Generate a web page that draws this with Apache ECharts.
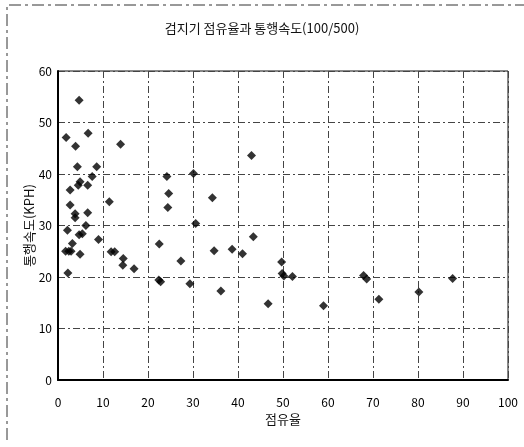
<!DOCTYPE html>
<html>
<head>
<meta charset="utf-8">
<script src="https://cdn.jsdelivr.net/npm/echarts@6/dist/echarts.min.js"></script>
<style>
  html, body { margin: 0; padding: 0; background: #fff; }
  #chart { width: 524px; height: 447px; }
</style>
</head>
<body>
<div id="chart"></div>
<script>
// Detector occupancy (%) vs. travel speed (KPH), one pair per observation
const occupancy = [
  4.7, 1.8, 6.7, 3.9, 13.9, 4.3, 8.6, 7.6, 4.9, 4.5,
  6.6, 2.7, 11.4, 2.7, 3.8, 3.8, 6.6, 6.2, 2.1, 4.7,
  5.4, 9.0, 3.2, 1.7, 2.4, 2.9, 4.9, 11.8, 12.6, 14.5,
  14.4, 16.9, 2.2, 22.4, 22.8, 22.5, 27.3, 29.3, 30.1, 24.2,
  24.6, 24.4, 30.6, 43.0, 34.3, 43.4, 34.7, 38.7, 41.0, 49.7,
  49.8, 50.2, 52.1, 36.2, 46.7, 59.0, 67.9, 68.6, 71.3, 80.2,
  87.7
];
const speed = [
  54.3, 47.1, 47.9, 45.4, 45.8, 41.4, 41.4, 39.5, 38.5, 37.8,
  37.8, 36.9, 34.6, 34.0, 32.3, 31.5, 32.5, 30.0, 29.1, 28.2,
  28.4, 27.3, 26.5, 25.0, 25.0, 25.0, 24.4, 24.9, 24.9, 23.6,
  22.3, 21.6, 20.8, 19.4, 19.1, 26.4, 23.1, 18.7, 40.1, 39.5,
  36.2, 33.5, 30.4, 43.6, 35.4, 27.8, 25.1, 25.4, 24.5, 22.9,
  20.7, 20.2, 20.1, 17.3, 14.8, 14.4, 20.3, 19.6, 15.7, 17.1,
  19.7
];
const xTicks = [0, 10, 20, 30, 40, 50, 60, 70, 80, 90, 100];
const yTicks = [0, 10, 20, 30, 40, 50, 60];

const titleText = '검지기 점유율과 통행속도(100/500)';
const xName = '점유율';
const yName = '통행속도(KPH)';

const points = occupancy.map((x, i) => [x, speed[i]]);

const FONT = '"Noto Sans CJK KR", "Noto Sans", sans-serif';
const gridLine = { show: true, lineStyle: { color: '#444', width: 1, type: [7, 3, 2, 3] } };

const chart = echarts.init(document.getElementById('chart'), null, { renderer: 'canvas' });
chart.setOption({
  backgroundColor: '#fff',
  animation: false,
  title: {
    text: titleText,
    left: 'center',
    top: 17,
    textStyle: { fontFamily: FONT, fontSize: 13, fontWeight: 'normal', color: '#111' }
  },
  grid: {
    left: 58, top: 71, width: 450, height: 309,
    show: true, borderColor: '#111', borderWidth: 1
  },
  xAxis: {
    type: 'value',
    min: xTicks[0], max: xTicks[xTicks.length - 1], interval: 10,
    name: xName,
    nameLocation: 'middle',
    nameGap: 33,
    nameTextStyle: { fontFamily: FONT, fontSize: 13, color: '#111' },
    axisLine: { show: true, lineStyle: { color: '#000', width: 2 } },
    axisTick: { show: false },
    axisLabel: { fontFamily: FONT, fontSize: 12, color: '#000', margin: 16 },
    splitLine: gridLine
  },
  yAxis: {
    type: 'value',
    min: yTicks[0], max: yTicks[yTicks.length - 1], interval: 10,
    name: yName,
    nameLocation: 'middle',
    nameGap: 22,
    nameRotate: 90,
    nameMoveOverlap: false,
    nameTextStyle: { fontFamily: FONT, fontSize: 13, color: '#111' },
    axisLine: { show: true, lineStyle: { color: '#000', width: 2 } },
    axisTick: { show: false },
    axisLabel: { fontFamily: FONT, fontSize: 12, color: '#000', margin: 6 },
    splitLine: gridLine
  },
  graphic: [{
    type: 'polyline',
    shape: { points: [[7, 440], [7, 5], [524, 5]] },
    style: { stroke: '#333', lineWidth: 1, lineDash: [12, 4, 3, 4], fill: null },
    silent: true
  }],
  series: [{
    type: 'scatter',
    data: points,
    symbol: 'diamond',
    symbolSize: 9,
    itemStyle: { color: '#000' }
  }]
});
</script>
</body>
</html>
